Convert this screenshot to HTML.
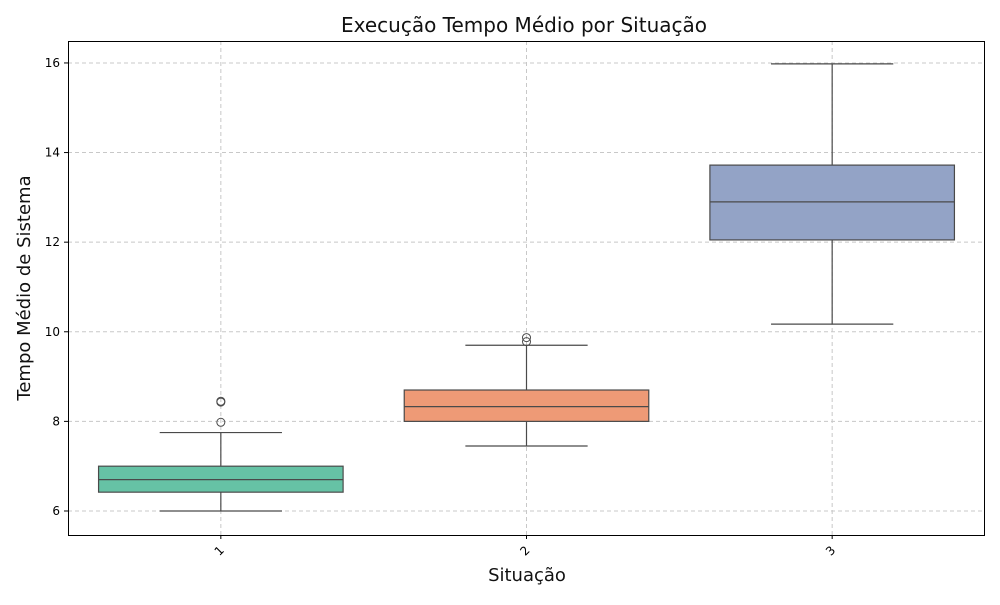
<!DOCTYPE html>
<html><head><meta charset="utf-8">
<style>
body{margin:0;background:#fff;font-family:"Liberation Sans","DejaVu Sans",sans-serif;}
svg text{font-family:"DejaVu Sans","Liberation Sans",sans-serif;}
</style></head>
<body>
<svg id="chart" width="1000" height="600" viewBox="0 0 1000 600">
<rect x="0" y="0" width="1000" height="600" fill="#fff"/>
<text x="524" y="32" text-anchor="middle" font-size="20" fill="#111">Execução Tempo Médio por Situação</text>
<text x="527" y="581" text-anchor="middle" font-size="18" fill="#111">Situação</text>
<text transform="translate(30,288) rotate(-90)" text-anchor="middle" font-size="18" fill="#111">Tempo Médio de Sistema</text>
<g id="grid"></g>
<g id="boxes"></g>
<rect x="68.5" y="41.5" width="916" height="494" fill="none" stroke="#000" stroke-width="1"/>
<g id="axes"></g>
</svg>
<script>
const categories = ["1","2","3"];
const q1 = [6.42, 8.0, 12.05];
const medians = [6.7, 8.33, 12.9];
const q3 = [7.0, 8.7, 13.72];
const whiskerLow = [6.0, 7.45, 10.17];
const whiskerHigh = [7.75, 9.7, 15.98];
const outliers = [[7.98, 8.43, 8.45], [9.78, 9.87], []];
const yTicks = [6, 8, 10, 12, 14, 16];
const colors = ["#66c2a5", "#ee9a76", "#93a3c6"];

const L = 68, R = 985, T = 41, B = 535;
const yMin = 5.464, yMax = 16.49;
function yScale(v){ return B - (v - yMin) / (yMax - yMin) * (B - T); }
const band = (R - L) / categories.length;
function xScale(i){ return L + band * (i + 0.5); }
const NS = "http://www.w3.org/2000/svg";
function mk(tag, attrs, parent){ const e = document.createElementNS(NS, tag); for (const k in attrs) e.setAttribute(k, attrs[k]); parent.appendChild(e); return e; }
const grid = document.getElementById('grid'), boxes = document.getElementById('boxes'), axes = document.getElementById('axes');

yTicks.forEach(t => {
  const y = yScale(t);
  const g = mk('line', {x1:L, x2:R, y1:y, y2:y, stroke:'#c8c8c8', 'stroke-dasharray':'4,3', 'stroke-width':1}, grid);
  
  
  const tk = mk('line', {x1:L-4, x2:L, y1:y, y2:y, stroke:'#000'}, axes);
  
  
  const tx = mk('text', {x:L-8, y:y+4, 'text-anchor':'end', 'font-size':12, fill:'#000'}, axes);
  tx.textContent = t;
  
  
});

categories.forEach((c, i) => {
  const x = xScale(i);
  const g = mk('line', {x1:x, x2:x, y1:T, y2:B, stroke:'#c8c8c8', 'stroke-dasharray':'4,3', 'stroke-width':1}, grid);
  
  
  const tk = mk('line', {x1:x, x2:x, y1:B, y2:B+4, stroke:'#000'}, axes);
  
  
  const tx = mk('text', {x:0, y:0, 'text-anchor':'end', 'font-size':12, fill:'#000', transform:`translate(${x+4},${B+16}) rotate(-45)`}, axes);
  tx.textContent = c;
  
  

  const grp = mk('g', {}, boxes);
  
  
  const bw = band * 0.8, cw = bw / 2;
  mk('line', {x1:x, x2:x, y1:yScale(q1[i]), y2:yScale(whiskerLow[i]), stroke:'#4a4a4a', 'stroke-width':1.2}, grp);
  mk('line', {x1:x, x2:x, y1:yScale(q3[i]), y2:yScale(whiskerHigh[i]), stroke:'#4a4a4a', 'stroke-width':1.2}, grp);
  mk('line', {x1:x-cw/2, x2:x+cw/2, y1:yScale(whiskerLow[i]), y2:yScale(whiskerLow[i]), stroke:'#4a4a4a', 'stroke-width':1.2}, grp);
  mk('line', {x1:x-cw/2, x2:x+cw/2, y1:yScale(whiskerHigh[i]), y2:yScale(whiskerHigh[i]), stroke:'#4a4a4a', 'stroke-width':1.2}, grp);
  mk('rect', {x:x-bw/2, y:yScale(q3[i]), width:bw, height:yScale(q1[i])-yScale(q3[i]), fill:colors[i], stroke:'#4a4a4a', 'stroke-width':1.2}, grp);
  mk('line', {x1:x-bw/2, x2:x+bw/2, y1:yScale(medians[i]), y2:yScale(medians[i]), stroke:'#4a4a4a', 'stroke-width':1.2}, grp);
  outliers[i].forEach(v => {
    const o = mk('circle', {cx:x, cy:yScale(v), r:4, fill:'none', stroke:'#4a4a4a', 'stroke-width':1}, grp);
    
    
  });
});
</script>
</body></html>
